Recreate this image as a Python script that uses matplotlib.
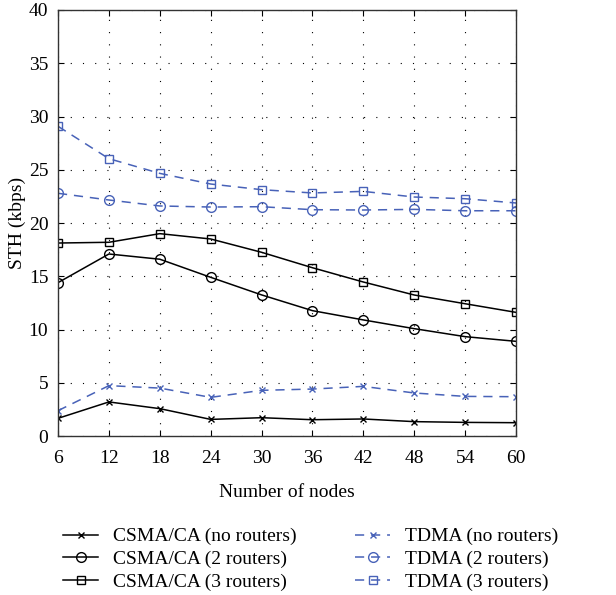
import numpy as np
import matplotlib
matplotlib.use("Agg")
from matplotlib import pyplot as plt

plt.rcParams["font.family"] = ["Liberation Serif", "DejaVu Serif"]

# data
nodes = [6, 12, 18, 24, 30, 36, 42, 48, 54, 60]
csma_no = [1.66, 3.2, 2.57, 1.56, 1.72, 1.53, 1.6, 1.35, 1.28, 1.25]
csma_2 = [14.4, 17.09, 16.6, 14.9, 13.25, 11.77, 10.9, 10.08, 9.33, 8.89]
csma_3 = [18.12, 18.19, 19.0, 18.5, 17.25, 15.8, 14.46, 13.24, 12.42, 11.61]
tdma_no = [2.38, 4.73, 4.5, 3.63, 4.29, 4.41, 4.66, 4.04, 3.72, 3.69]
tdma_2 = [22.79, 22.16, 21.6, 21.5, 21.53, 21.25, 21.22, 21.28, 21.15, 21.15]
tdma_3 = [29.08, 26.04, 24.66, 23.66, 23.13, 22.82, 22.97, 22.44, 22.28, 21.88]

blue = "#4862b8"
fs = 14

fig = plt.figure(figsize=(6.16, 5.95), dpi=100)
ax = fig.add_axes([0.0942, 0.2672, 0.7435, 0.716])

lw = 1.1
dash = (6, 4.5)
h1 = ax.plot(nodes, csma_no, "-", color="black", marker="x", ms=5, mew=1.0, lw=lw, label="CSMA/CA (no routers)")
h2 = ax.plot(nodes, csma_2, "-", color="black", marker="o", ms=7, mfc="none", mew=1.0, lw=lw, label="CSMA/CA (2 routers)")
h3 = ax.plot(nodes, csma_3, "-", color="black", marker="s", ms=6, mfc="none", mew=1.0, lw=lw, label="CSMA/CA (3 routers)")
h4 = ax.plot(nodes, tdma_no, "--", color=blue, marker="x", ms=5, mew=1.0, lw=lw, dashes=dash, label="TDMA (no routers)")
h5 = ax.plot(nodes, tdma_2, "--", color=blue, marker="o", ms=7, mfc="none", mew=1.0, lw=lw, dashes=dash, label="TDMA (2 routers)")
h6 = ax.plot(nodes, tdma_3, "--", color=blue, marker="s", ms=6, mfc="none", mew=1.0, lw=lw, dashes=dash, label="TDMA (3 routers)")

ax.set_xlim(6, 60)
ax.set_ylim(0, 40)
ax.set_xticks(nodes)
ax.set_yticks(np.arange(0, 41, 5))
ax.grid(True, color="black", linestyle=(0, (1, 10)), linewidth=0.8)
ax.tick_params(direction="in", length=4, labelsize=fs, top=True, right=True)
ax.tick_params(axis="x", pad=10)
ax.tick_params(axis="y", pad=7)
for sp in ax.spines.values():
    sp.set_linewidth(1.0)
    sp.set_color("#333333")
ax.set_xlabel("Number of nodes", fontsize=fs, labelpad=12)
ax.set_ylabel("STH (kbps)", fontsize=fs, labelpad=2)

leg_kw = dict(loc="upper left", frameon=False, fontsize=fs, handlelength=1.8,
              labelspacing=0.25, handletextpad=0.75, borderaxespad=0, borderpad=0)
leg1 = fig.legend(handles=h1 + h2 + h3, bbox_to_anchor=(0.103, 0.113), **leg_kw)
leg2 = fig.legend(handles=h4 + h5 + h6, bbox_to_anchor=(0.577, 0.113), **leg_kw)

plt.savefig("out.png", dpi=100)
